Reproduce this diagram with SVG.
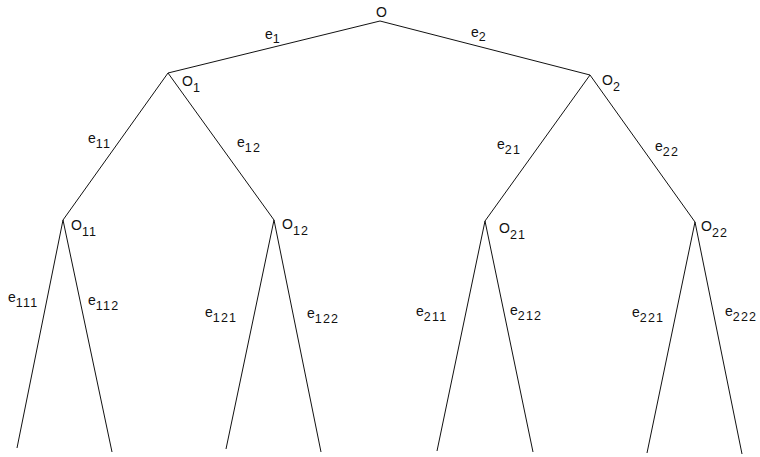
<svg xmlns="http://www.w3.org/2000/svg" width="760" height="457" viewBox="0 0 760 457">
<style>
.lbl{font-family:"Liberation Sans",Arial,sans-serif;font-size:14px;fill:#111}
.sub{font-size:12.5px;letter-spacing:1.2px}
.edge{stroke:#111;stroke-width:1;fill:none}
</style>
<rect width="760" height="457" fill="#fff"/>
<g id="connectors">
<line class="edge" x1="380" y1="21" x2="168" y2="73"/>
<line class="edge" x1="380" y1="21" x2="590" y2="75"/>
<line class="edge" x1="168" y1="73" x2="63" y2="220"/>
<line class="edge" x1="168" y1="73" x2="274" y2="220"/>
<line class="edge" x1="590" y1="75" x2="485" y2="221"/>
<line class="edge" x1="590" y1="75" x2="695" y2="222"/>
<line class="edge" x1="63" y1="220" x2="17" y2="448"/>
<line class="edge" x1="63" y1="220" x2="112" y2="452"/>
<line class="edge" x1="274" y1="220" x2="226" y2="449"/>
<line class="edge" x1="274" y1="220" x2="321" y2="452"/>
<line class="edge" x1="485" y1="221" x2="437" y2="451"/>
<line class="edge" x1="485" y1="221" x2="533" y2="452"/>
<line class="edge" x1="695" y1="222" x2="647" y2="453"/>
<line class="edge" x1="695" y1="222" x2="742" y2="454"/>
</g>
<g id="edge-labels">
<text class="lbl" x="265" y="39">e<tspan class="sub" dy="4">1</tspan></text>
<text class="lbl" x="471" y="37">e<tspan class="sub" dy="4">2</tspan></text>
<text class="lbl" x="88" y="143">e<tspan class="sub" dy="5">11</tspan></text>
<text class="lbl" x="237" y="147">e<tspan class="sub" dy="5">12</tspan></text>
<text class="lbl" x="497" y="149">e<tspan class="sub" dy="5">21</tspan></text>
<text class="lbl" x="655" y="151">e<tspan class="sub" dy="5">22</tspan></text>
<text class="lbl" x="8" y="302">e<tspan class="sub" dy="5">111</tspan></text>
<text class="lbl" x="88" y="305">e<tspan class="sub" dy="5">112</tspan></text>
<text class="lbl" x="205" y="317">e<tspan class="sub" dy="5">121</tspan></text>
<text class="lbl" x="307" y="318">e<tspan class="sub" dy="5">122</tspan></text>
<text class="lbl" x="416" y="316">e<tspan class="sub" dy="5">211</tspan></text>
<text class="lbl" x="510" y="315">e<tspan class="sub" dy="5">212</tspan></text>
<text class="lbl" x="632" y="317">e<tspan class="sub" dy="5">221</tspan></text>
<text class="lbl" x="725" y="316">e<tspan class="sub" dy="5">222</tspan></text>
</g>
<g id="node-O"><text class="lbl" x="376" y="17">O</text></g>
<g id="node-O1"><text class="lbl" x="182" y="86">O<tspan class="sub" dy="6">1</tspan></text></g>
<g id="node-O2"><text class="lbl" x="602" y="85">O<tspan class="sub" dy="6">2</tspan></text></g>
<g id="node-O11"><text class="lbl" x="71" y="230">O<tspan class="sub" dy="6">11</tspan></text></g>
<g id="node-O12"><text class="lbl" x="282" y="229">O<tspan class="sub" dy="6">12</tspan></text></g>
<g id="node-O21"><text class="lbl" x="499" y="233">O<tspan class="sub" dy="6">21</tspan></text></g>
<g id="node-O22"><text class="lbl" x="701" y="231">O<tspan class="sub" dy="6">22</tspan></text></g>
</svg>
